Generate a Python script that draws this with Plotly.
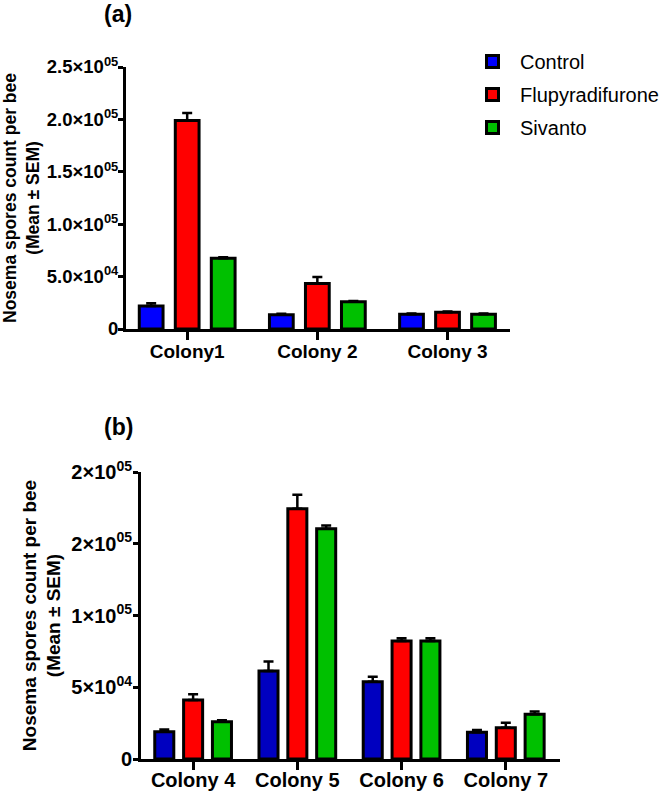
import plotly.graph_objects as go

# ---------------- data ----------------
series_names = ["Control", "Flupyradifurone", "Sivanto"]

colonies_a = ["Colony1", "Colony 2", "Colony 3"]
a_control = [22000, 13500, 14100]
a_control_sem = [2500, 1000, 600]
a_flupy = [199000, 43500, 16000]
a_flupy_sem = [7000, 6000, 600]
a_sivanto = [67500, 26000, 14100]
a_sivanto_sem = [1000, 700, 600]

colonies_b = ["Colony 4", "Colony 5", "Colony 6", "Colony 7"]
b_control = [19000, 61400, 53900, 18600]
b_control_sem = [1500, 6500, 3500, 1600]
b_flupy = [41200, 174400, 82300, 21800]
b_flupy_sem = [4000, 9800, 1900, 3500]
b_sivanto = [26000, 160500, 82300, 31200]
b_sivanto_sem = [1000, 2300, 1900, 1900]

a_tickvals = [0, 50000, 100000, 150000, 200000, 250000]
a_ticktext = ["0", "5.0×10<sup>04</sup>", "1.0×10<sup>05</sup>", "1.5×10<sup>05</sup>",
              "2.0×10<sup>05</sup>", "2.5×10<sup>05</sup>"]
b_tickvals = [0, 50000, 100000, 150000, 200000]
b_ticktext = ["0", "5×10<sup>04</sup>", "1×10<sup>05</sup>", "2×10<sup>05</sup>", "2×10<sup>05</sup>"]

colors_a = ["#0000FF", "#FF0000", "#00C000"]
colors_b = ["#0000C0", "#FF0000", "#00C000"]

FONT = "Liberation Sans, Arial, sans-serif"

fig = go.Figure()

a_vals = [a_control, a_flupy, a_sivanto]
a_errs = [a_control_sem, a_flupy_sem, a_sivanto_sem]
for i, name in enumerate(series_names):
    fig.add_trace(go.Bar(
        x=colonies_a, y=a_vals[i], name=name,
        marker=dict(color=colors_a[i], line=dict(color="black", width=3)),
        error_y=dict(type="data", array=a_errs[i], arrayminus=[0] * len(a_errs[i]),
                     symmetric=False, color="black", thickness=2.5, width=5),
        xaxis="x", yaxis="y", legendgroup=name, showlegend=True,
    ))

b_vals = [b_control, b_flupy, b_sivanto]
b_errs = [b_control_sem, b_flupy_sem, b_sivanto_sem]
for i, name in enumerate(series_names):
    fig.add_trace(go.Bar(
        x=colonies_b, y=b_vals[i], name=name,
        marker=dict(color=colors_b[i], line=dict(color="black", width=3)),
        error_y=dict(type="data", array=b_errs[i], arrayminus=[0] * len(b_errs[i]),
                     symmetric=False, color="black", thickness=2.5, width=5),
        xaxis="x2", yaxis="y2", legendgroup=name + "_b", showlegend=False,
    ))

W, H = 666, 795
def px_x(p):
    return p / W
def px_y(p):
    return (H - p) / H

axis_common = dict(showline=True, linecolor="black", linewidth=3, ticks="outside",
                   tickcolor="black", tickwidth=2.5, showgrid=False, zeroline=False,
                   automargin=False)

fig.update_layout(
    width=W, height=H,
    margin=dict(l=0, r=0, t=0, b=0),
    paper_bgcolor="white", plot_bgcolor="white",
    barmode="group", bargap=0.17, bargroupgap=0.34,
    font=dict(family=FONT, color="black"),
    xaxis=dict(domain=[px_x(126), px_x(510)], anchor="y", range=[-0.47, 2.48],
               ticklen=8, ticklabelstandoff=-5,
               tickfont=dict(size=19, weight="bold"), **axis_common),
    yaxis=dict(domain=[px_y(329), px_y(67)], anchor="x", range=[0, 250000],
               tickvals=a_tickvals, ticktext=a_ticktext, ticklen=5,
               ticklabelstandoff=-4,
               tickfont=dict(size=18.5, weight="bold"),
               title=dict(text="Nosema spores count per bee<br>(Mean ± SEM)",
                          font=dict(size=17.5, weight="bold"), standoff=6),
               **axis_common),
    xaxis2=dict(domain=[px_x(141), px_x(560)], anchor="y2", range=[-0.5, 3.52],
                ticklen=8, ticklabelstandoff=-7,
                tickfont=dict(size=20, weight="bold"), **axis_common),
    yaxis2=dict(domain=[px_y(759), px_y(472)], anchor="x2", range=[0, 200000],
                tickvals=b_tickvals, ticktext=b_ticktext, ticklen=5,
                ticklabelstandoff=-3,
                tickfont=dict(size=20, weight="bold"),
                title=dict(text="Nosema spores count per bee<br>(Mean ± SEM)",
                           font=dict(size=19, weight="bold"), standoff=6),
                **axis_common),
    legend=dict(x=px_x(465), y=px_y(42), xanchor="left", yanchor="top",
                font=dict(size=20), tracegroupgap=4, itemwidth=45,
                bgcolor="rgba(0,0,0,0)"),
    annotations=[
        dict(text="<b>(a)</b>", x=px_x(118), y=px_y(14), xref="paper", yref="paper",
             xanchor="center", yanchor="middle", showarrow=False, font=dict(size=23)),
        dict(text="<b>(b)</b>", x=px_x(118), y=px_y(427), xref="paper", yref="paper",
             xanchor="center", yanchor="middle", showarrow=False, font=dict(size=23)),
    ],
)

fig.write_html("out.html", config={"displayModeBar": False},
               post_script="document.body.style.margin='0';")
